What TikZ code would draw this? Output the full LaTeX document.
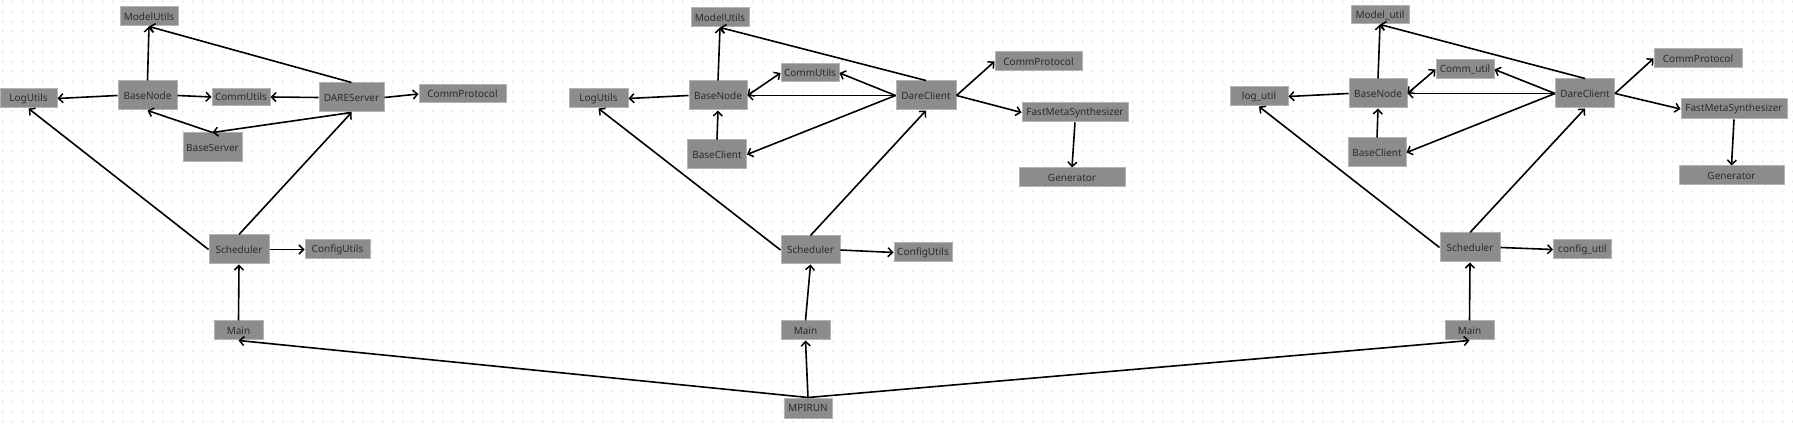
\documentclass[tikz,border=0pt]{standalone}
\usepackage{fontspec}
\setmainfont{Noto Sans}
\usetikzlibrary{arrows.meta}
\definecolor{boxfill}{HTML}{8C8C8C}
\definecolor{boxline}{HTML}{B4B4B4}
\definecolor{txt}{HTML}{2A2A32}
\definecolor{dotc}{HTML}{E6E6E6}
\tikzset{
  box/.style={draw=boxline, fill=boxfill, line width=1pt, inner sep=0pt,
    text=txt, font=\fontsize{10}{12}\selectfont},
  conn/.style={draw=black, line width=1.6pt,
    -{Straight Barb[length=4.5pt,width=9pt,line width=1.5pt]}},
  bconn/.style={draw=black, line width=1.6pt,
    {Straight Barb[length=4.5pt,width=9pt,line width=1.5pt]}-{Straight Barb[length=4.5pt,width=9pt,line width=1.5pt]}},
  dotrow/.style={draw=dotc, line width=2.4pt, line cap=round, dash pattern=on 0pt off 10pt}
}
\begin{document}
\begin{tikzpicture}[x=1pt,y=-1pt]
\useasboundingbox (0,0) rectangle (1793,427);
\fill[white] (0,0) rectangle (1793,427);
\foreach \yy in {1.5,11.5,...,421.5} {\draw[dotrow] (2.7,\yy) -- (1793,\yy);}

% group 1
\node[box, minimum width=58pt, minimum height=19pt] (mu1) at (149,16.5) {ModelUtils};
\node[box, minimum width=57pt, minimum height=19pt] (lu1) at (28.5,98.5) {LogUtils};
\node[box, minimum width=59pt, minimum height=29pt] (bn1) at (147.5,95.5) {BaseNode};
\node[box, minimum width=58pt, minimum height=17pt] (cu1) at (241,97) {CommUtils};
\node[box, minimum width=65pt, minimum height=29pt] (ds1) at (351.5,97.5) {DAREServer};
\node[box, minimum width=87pt, minimum height=18pt] (cp1) at (462.5,94) {CommProtocol};
\node[box, minimum width=59pt, minimum height=29pt] (bs1) at (212.5,147.5) {BaseServer};
\node[box, minimum width=60pt, minimum height=29pt] (sc1) at (239,249.5) {Scheduler};
\node[box, minimum width=65pt, minimum height=19pt] (cfg1) at (337.5,249.5) {ConfigUtils};
\node[box, minimum width=49pt, minimum height=19pt] (m1) at (238.5,330.5) {Main};
\node[box, minimum width=48pt, minimum height=20pt] (mpi) at (808,408) {MPIRUN};

% group 2
\node[box, minimum width=58pt, minimum height=19pt] (mu2) at (720,17.5) {ModelUtils};
\node[box, minimum width=59pt, minimum height=19pt] (lu2) at (598.5,98.5) {LogUtils};
\node[box, minimum width=58pt, minimum height=29pt] (bn2) at (718,95.5) {BaseNode};
\node[box, minimum width=58pt, minimum height=18pt] (cu2) at (810,73) {CommUtils};
\node[box, minimum width=60pt, minimum height=29pt] (dc2) at (926,95.5) {DareClient};
\node[box, minimum width=87pt, minimum height=19pt] (cp2) at (1038.5,61.5) {CommProtocol};
\node[box, minimum width=106pt, minimum height=19pt] (fms2) at (1075,112.5) {FastMetaSynthesizer};
\node[box, minimum width=106pt, minimum height=19pt] (gen2) at (1072,177.5) {Generator};
\node[box, minimum width=59pt, minimum height=29pt] (bc2) at (717,154.5) {BaseClient};
\node[box, minimum width=59pt, minimum height=28pt] (sc2) at (810.5,250) {Scheduler};
\node[box, minimum width=58pt, minimum height=19pt] (cfg2) at (923,252.5) {ConfigUtils};
\node[box, minimum width=49pt, minimum height=19pt] (m2) at (805.5,330.5) {Main};

% group 3
\node[box, minimum width=58pt, minimum height=18pt] (mu3) at (1380,15) {Model\_util};
\node[box, minimum width=58pt, minimum height=19pt] (lu3) at (1259,96.5) {log\_util};
\node[box, minimum width=58pt, minimum height=29pt] (bn3) at (1378,93.5) {BaseNode};
\node[box, minimum width=58pt, minimum height=19pt] (cu3) at (1465,69.5) {Comm\_util};
\node[box, minimum width=59pt, minimum height=29pt] (dc3) at (1585,93.5) {DareClient};
\node[box, minimum width=88pt, minimum height=19pt] (cp3) at (1698,58.5) {CommProtocol};
\node[box, minimum width=106pt, minimum height=20pt] (fms3) at (1734,109) {FastMetaSynthesizer};
\node[box, minimum width=105pt, minimum height=19pt] (gen3) at (1731.5,175.5) {Generator};
\node[box, minimum width=58pt, minimum height=29pt] (bc3) at (1377,152.5) {BaseClient};
\node[box, minimum width=60pt, minimum height=29pt] (sc3) at (1470,247.5) {Scheduler};
\node[box, minimum width=58pt, minimum height=19pt] (cfg3) at (1582.5,249.5) {config\_util};
\node[box, minimum width=49pt, minimum height=19pt] (m3) at (1469.5,330.5) {Main};

% connectors group 1
\draw[conn] (bn1.north) -- (mu1.south);
\draw[conn] (ds1.north) -- (mu1.south);
\draw[conn] (bn1.west) -- (lu1.east);
\draw[conn] (bn1.east) -- (cu1.west);
\draw[conn] (ds1.west) -- (cu1.east);
\draw[conn] (ds1.east) -- (cp1.west);
\draw[conn] (bs1.north) -- (bn1.south);
\draw[conn] (ds1.south) -- (bs1.north);
\draw[conn] (sc1.west) -- (lu1.south);
\draw[conn] (sc1.north) -- (ds1.south);
\draw[conn] (sc1.east) -- (cfg1.west);
\draw[conn] (m1.north) -- (sc1.south);

% connectors group 2
\draw[conn] (bn2.north) -- (mu2.south);
\draw[conn] (dc2.north) -- (mu2.south);
\draw[conn] (bn2.west) -- (lu2.east);
\draw[bconn] (bn2.east) -- (cu2.west);
\draw[conn] (dc2.west) -- (cu2.east);
\draw[conn] (dc2.west) -- (bn2.east);
\draw[conn] (dc2.west) -- (bc2.east);
\draw[conn] (bc2.north) -- (bn2.south);
\draw[conn] (dc2.east) -- (cp2.west);
\draw[conn] (dc2.east) -- (fms2.west);
\draw[conn] (fms2.south) -- (gen2.north);
\draw[conn] (sc2.west) -- (lu2.south);
\draw[conn] (sc2.north) -- (dc2.south);
\draw[conn] (sc2.east) -- (cfg2.west);
\draw[conn] (m2.north) -- (sc2.south);

% connectors group 3
\draw[conn] (bn3.north) -- (mu3.south);
\draw[conn] (dc3.north) -- (mu3.south);
\draw[conn] (bn3.west) -- (lu3.east);
\draw[bconn] (bn3.east) -- (cu3.west);
\draw[conn] (dc3.west) -- (cu3.east);
\draw[conn] (dc3.west) -- (bn3.east);
\draw[conn] (dc3.west) -- (bc3.east);
\draw[conn] (bc3.north) -- (bn3.south);
\draw[conn] (dc3.east) -- (cp3.west);
\draw[conn] (dc3.east) -- (fms3.west);
\draw[conn] (fms3.south) -- (gen3.north);
\draw[conn] (sc3.west) -- (lu3.south);
\draw[conn] (sc3.north) -- (dc3.south);
\draw[conn] (sc3.east) -- (cfg3.west);
\draw[conn] (m3.north) -- (sc3.south);

% MPIRUN
\draw[conn] (mpi.north) -- (m1.south);
\draw[conn] (mpi.north) -- (m2.south);
\draw[conn] (mpi.north) -- (m3.south);
\end{tikzpicture}
\end{document}
